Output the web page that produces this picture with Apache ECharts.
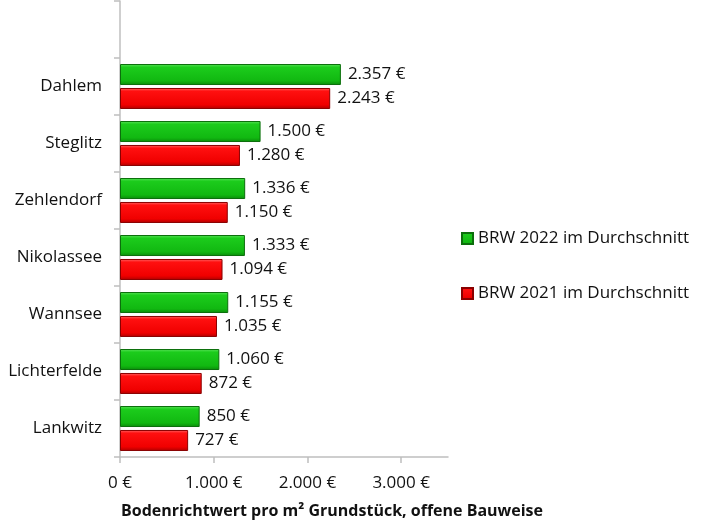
<!DOCTYPE html>
<html><head><meta charset="utf-8">
<script src="https://cdn.jsdelivr.net/npm/echarts@6/dist/echarts.min.js"></script>
<style>html,body{margin:0;padding:0;background:#fff}#c{width:704px;height:528px}</style>
</head><body><div id="c"></div>
<script>
const categories = ['', 'Dahlem', 'Steglitz', 'Zehlendorf', 'Nikolassee', 'Wannsee', 'Lichterfelde', 'Lankwitz'];
const brw2022 = [null, 2357, 1500, 1336, 1333, 1155, 1060, 850];
const brw2021 = [null, 2243, 1280, 1150, 1094, 1035, 872, 727];
const seriesNames = ['BRW 2022 im Durchschnitt', 'BRW 2021 im Durchschnitt'];
const xTicks = [0, 1000, 2000, 3000];
const axisTitle = 'Bodenrichtwert pro m² Grundstück, offene Bauweise';

const fmt = v => v.toString().replace(/\B(?=(\d{3})+(?!\d))/g, '.') + ' €';
const FONT = 'Open Sans';
const grad = (a, b, c, d) => new echarts.graphic.LinearGradient(0, 0, 0, 1, [
  {offset: 0, color: a}, {offset: 0.15, color: b}, {offset: 0.8, color: c}, {offset: 1, color: d}]);

const chart = echarts.init(document.getElementById('c'), null, {renderer: 'canvas'});
chart.setOption({
  animation: false,
  textStyle: {fontFamily: FONT},
  title: {
    text: axisTitle, left: 121, top: 503, padding: 0,
    textStyle: {fontFamily: FONT, fontSize: 16, fontWeight: 'bold', color: '#111'}
  },
  grid: {left: 120, top: 1, width: 328, height: 456, containLabel: false},
  legend: {
    orient: 'vertical', left: 456, top: 225, itemGap: 38,
    itemWidth: 11, itemHeight: 11, icon: 'rect',
    textStyle: {fontFamily: FONT, fontSize: 17, color: '#111'},
    data: seriesNames
  },
  xAxis: {
    type: 'value', min: 0, max: 3500,
    axisLine: {show: true, lineStyle: {color: '#bfbfbf', width: 1.5}},
    axisTick: {show: true, length: 6, lineStyle: {color: '#bfbfbf', width: 1.5}, customValues: xTicks},
    axisLabel: {fontFamily: FONT, fontSize: 17, color: '#111', margin: 18, formatter: fmt, customValues: xTicks},
    splitLine: {show: false}
  },
  yAxis: {
    type: 'category', inverse: true, data: categories,
    axisLine: {show: true, lineStyle: {color: '#bfbfbf', width: 1.5}},
    axisTick: {show: true, length: 6, lineStyle: {color: '#bfbfbf', width: 1.5}},
    axisLabel: {fontFamily: FONT, fontSize: 17, color: '#111', margin: 18}
  },
  series: [
    {
      name: seriesNames[0], type: 'bar', data: brw2022,
      barWidth: 21, barGap: '14%',
      itemStyle: {color: grad('#5ee65e', '#1ccc1c', '#11b811', '#0a8a0a'), borderColor: '#0b6e0b', borderWidth: 1},
      label: {show: true, position: 'right', distance: 7, fontFamily: FONT, fontSize: 17, color: '#111',
        formatter: p => fmt(p.value)}
    },
    {
      name: seriesNames[1], type: 'bar', data: brw2021,
      barWidth: 21,
      itemStyle: {color: grad('#ff6a6a', '#ff1010', '#f00000', '#b00000'), borderColor: '#8a0000', borderWidth: 1},
      label: {show: true, position: 'right', distance: 7, fontFamily: FONT, fontSize: 17, color: '#111',
        formatter: p => fmt(p.value)}
    }
  ]
});
</script></body></html>
